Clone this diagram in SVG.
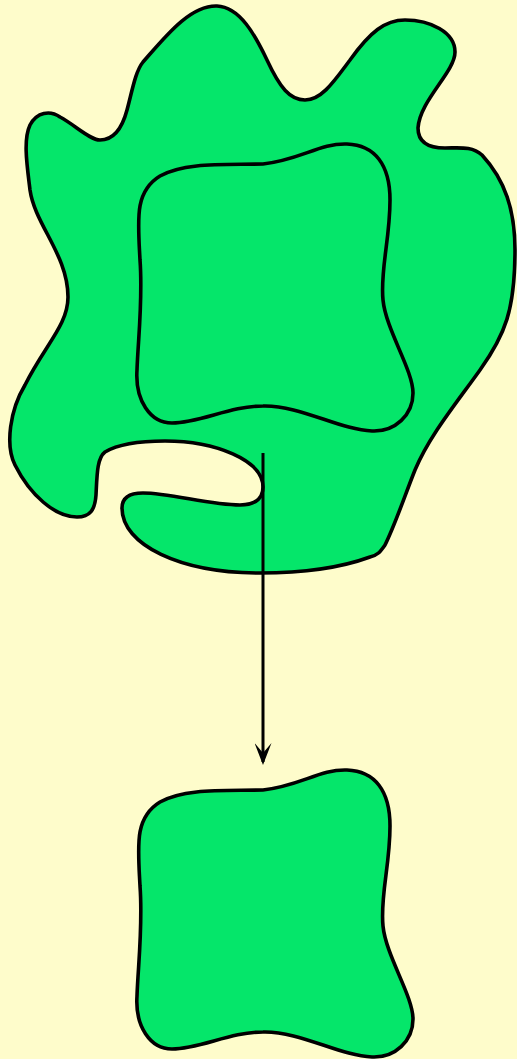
<svg xmlns="http://www.w3.org/2000/svg" width="517" height="1059" viewBox="0 0 517 1059">
<style>
.shape{fill:#05E66A;stroke:#000;stroke-width:3.6;stroke-linejoin:round}
.conn{stroke:#000;stroke-width:3;fill:none}
</style>
<defs>
<marker id="arr" markerUnits="userSpaceOnUse" markerWidth="22" markerHeight="17" refX="19" refY="8.5" orient="auto" viewBox="0 0 22 17">
<path d="M0,0 L22,8.5 L0,17 L10,8.5 Z" fill="#000"/>
</marker>
<path id="sq" d="M263,164 C300,160 320,143 347,144 C375,145 390,165 390,200 C390,240 380,270 383,300 C386,330 413,370 413,393 C413,415 395,432 372,431 C340,430 300,405 263,406 C230,406 200,423 172,423 C150,423 135,400 137,370 C138,340 143,300 140,260 C138,220 134,192 160,176 C185,162 225,165 263,164 Z"/>
</defs>
<rect width="517" height="1059" fill="#FEFCCB"/>
<g id="blob">
<path class="shape" d="M143,62 C165,37 190,5 217,6 C240,7 255,35 267,60 C280,88 290,100 305,100 C322,100 335,80 350,60 C370,32 385,20 405,20 C430,20 455,32 455,52 C455,72 420,100 418,128 C418,145 432,148 445,148 C460,148 472,146 482,155 C505,180 515,210 515,250 C515,310 505,335 480,370 C455,405 430,435 415,470 C405,495 395,525 385,545 C380,552 378,555 370,557 C340,568 300,573 260,573 C180,573 122,545 122,508 C122,497 130,493 143,493 C170,493 210,505 240,505 C258,505 263,496 263,487 C263,460 215,441 165,441 C135,441 115,446 105,452 C97,458 97,475 96,495 C95,510 90,517 77,517 C55,517 30,495 15,465 C5,445 10,410 25,385 C45,345 68,325 68,297 C68,255 35,225 30,190 C27,165 23,140 30,125 C37,112 50,110 60,117 C75,125 90,140 100,140 C115,140 123,125 127,110 C132,92 135,72 143,62 Z"/>
</g>
<g id="inner">
<use href="#sq" class="shape"/>
</g>
<g id="result">
<use href="#sq" class="shape" transform="translate(0,626)"/>
</g>
<g id="connectors">
<line class="conn" x1="263" y1="453" x2="263" y2="762" marker-end="url(#arr)"/>
</g>
</svg>
